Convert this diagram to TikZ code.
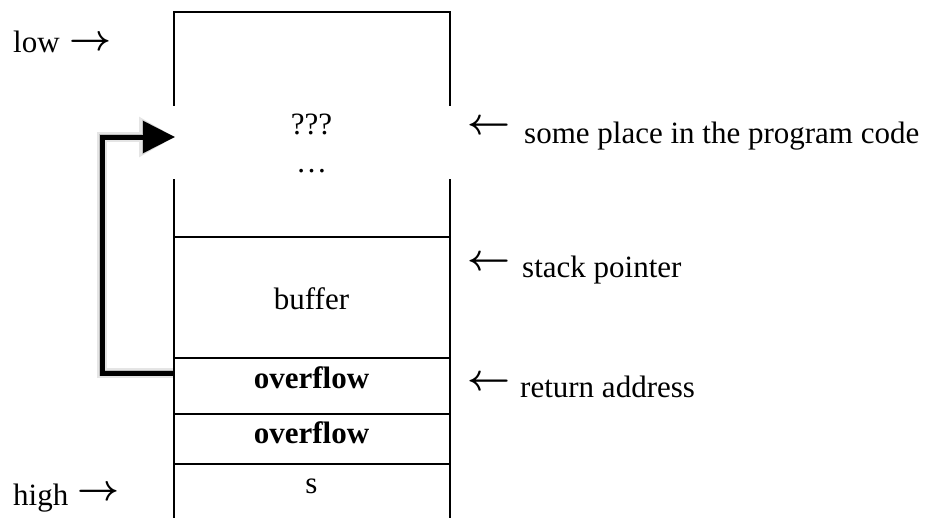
\documentclass[tikz,border=0pt]{standalone}
\usepackage{fontspec}
\usepackage{graphicx}
\setmainfont{Liberation Serif}
\usetikzlibrary{arrows.meta}
\newcommand{\rarr}{\resizebox{42pt}{!}{\boldmath$\rightarrow$}}
\newcommand{\larr}{\resizebox{43pt}{!}{\boldmath$\leftarrow$}}
\begin{document}
\begin{tikzpicture}[x=1pt,y=-1pt,
  txt/.style={inner sep=0pt,font=\fontsize{31}{36}\selectfont},
  glyph/.style={inner sep=0pt},
  stackline/.style={line width=2pt,line cap=rect},
  bigarrow/.style={line width=5pt,-{Triangle[length=32pt,width=31pt]}},
  shadowouter/.style={line width=10pt,draw=black!10,-{Triangle[length=36pt,width=38pt]}},
  shadowinner/.style={line width=6pt,draw=black!25,-{Triangle[length=33pt,width=33pt]}}]
\useasboundingbox (0,0) rectangle (936,517);
% stack corners and gap points
\coordinate (tl) at (174,12);
\coordinate (tr) at (450,12);
\coordinate (lgapa) at (174,105);
\coordinate (lgapb) at (174,180);
\coordinate (rgapa) at (450,105);
\coordinate (rgapb) at (450,180);
\coordinate (bl) at (174,517);
\coordinate (br) at (450,517);
\coordinate (l1) at (174,237); \coordinate (r1) at (450,237);
\coordinate (l2) at (174,358); \coordinate (r2) at (450,358);
\coordinate (l3) at (174,414); \coordinate (r3) at (450,414);
\coordinate (l4) at (174,464); \coordinate (r4) at (450,464);
% return jump arrow points
\coordinate (from) at (174,373);
\coordinate (c1) at (102,373);
\coordinate (c2) at (102,137);
\coordinate (to) at (175,137);
% soft shadow of the jump arrow
\begin{scope}[shift={(4,6)}]
\draw[shadowouter] (from) -- (c1) -- (c2) -- (to);
\draw[shadowinner] (from) -- (c1) -- (c2) -- (to);
\end{scope}
\draw[stackline] (lgapa) -- (tl) -- (tr) -- (rgapa);
\draw[stackline] (lgapb) -- (bl);
\draw[stackline] (rgapb) -- (br);
\draw[stackline] (l1) -- (r1);
\draw[stackline] (l2) -- (r2);
\draw[stackline] (l3) -- (r3);
\draw[stackline] (l4) -- (r4);
% cell texts
\node[txt,anchor=base] (q) at (311.5,134) {???};
\node[txt,anchor=base] (dots) at (311.5,172) {…};
\node[txt,anchor=base] (buf) at (311.5,309) {buffer};
\node[txt,anchor=base] (ov1) at (311.5,388) {\bfseries overflow};
\node[txt,anchor=base] (ov2) at (311.5,443) {\bfseries overflow};
\node[txt,anchor=base] (s) at (311.5,493) {s};
% left labels
\node[txt,anchor=base west] (low) at (13,52) {low};
\node[glyph] (lowarr) at (91,43) {\rarr};
\node[txt,anchor=base west] (high) at (13,505) {high};
\node[glyph] (higharr) at (99,493) {\rarr};
% right labels
\node[glyph] (a1) at (488.5,127) {\larr};
\node[txt,anchor=base west] (t1) at (524,143) {some place in the program code};
\node[glyph] (a2) at (488.5,263) {\larr};
\node[txt,anchor=base west] (t2) at (522,277) {stack pointer};
\node[glyph] (a3) at (488.5,383) {\larr};
\node[txt,anchor=base west] (t3) at (520,397) {return address};
% jump arrow
\draw[bigarrow] (from) -- (c1) -- (c2) -- (to);
\end{tikzpicture}
\end{document}
